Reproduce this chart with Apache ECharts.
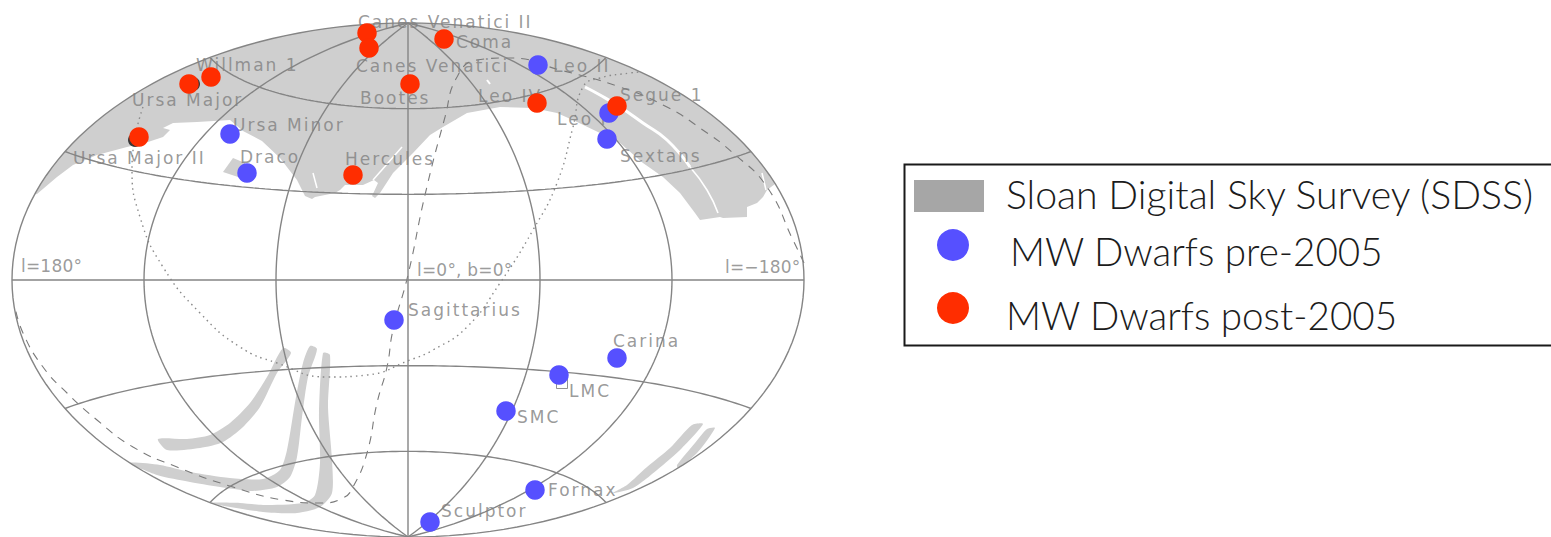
<!doctype html>
<html lang="en">
  <head>
    <meta charset="UTF-8" />
    <title>Milky Way dwarfs on the sky</title>
    <script src="https://cdn.jsdelivr.net/npm/echarts@6/dist/echarts.min.js"></script>
    <style>
      html, body { margin: 0; background: #fff; }
      #main { width: 1551px; height: 537px; }
      /* the sky labels are widely spaced in the original, svg text takes css for that */
      #main svg text { letter-spacing: 2px; }
      #main svg text[fill="#1c1c1c"] { letter-spacing: 0; }
      #main svg text[fill="#818181"] { letter-spacing: 0.2px; }
    </style>
  </head>
  <body>
    <div id="main"></div>
    <script>
      const preDwarfs = [
        [130, 215], [201, 167], [199, 141], [-178, 146], [-161, 107], [-14, -40],
        [209, -78], [151, -95], [98, -131], [127, -210], [22, -242]
      ];
      const postDwarfs = [
        [-41, 247], [-39, 232], [36, 241], [2, 196], [-197, 203], [-219, 196],
        [-269, 143], [129, 177], [209, 174], [-55, 105]
      ];
      // black plot symbols that peek out from under the red dots
      const hiddenDots = [[-215, 196], [-273, 140]];
      const lmcBox = [[154, -103]];

      const labelNames = [
        "Canes Venatici II", "Coma", "Willman 1", "Canes Venatici", "Leo II", "Ursa Major",
        "Bootes", "Leo IV", "Segue 1", "Leo I", "Ursa Minor", "Ursa Major II", "Draco",
        "Hercules", "Sextans", "Sagittarius", "Carina",
        "LMC", "SMC", "Fornax", "Sculptor"
      ];
      const labelSpots = [
        [-50, 258], [48, 238], [-212, 215], [-52, 214], [145, 214], [-276, 180],
        [-48, 182], [70, 184], [212, 185], [149, 161], [-175, 155], [-335, 122], [-168, 123],
        [-63, 121], [212, 124], [0, -30], [205, -61],
        [161, -111], [109, -137], [140, -210], [33, -231]
      ];
      const coordNames = ["l=180°", "l=0°, b=0°", "l=−180°"];
      const coordSpots = [[-387, 14], [9, 10], [317, 13]];

      // lower edge of the northern survey area, right to left
      const sdssNorthEdge = [
        [367, 96], [359, 90], [355, 83], [349, 77], [339, 73], [339, 63], [315, 62], [312, 63],
        [292, 60], [287, 67], [272, 87], [255, 103], [235, 117], [212, 137], [192, 147],
        [167, 159], [149, 167], [125, 172], [92, 173], [59, 167], [35, 153], [22, 145],
        [5, 127], [-15, 107], [-28, 87], [-33, 82], [-36, 84], [-30, 97], [-34, 100],
        [-45, 95], [-63, 95], [-68, 90], [-73, 87], [-93, 83], [-96, 81], [-103, 84],
        [-111, 100], [-128, 122], [-146, 139], [-165, 149], [-178, 160], [-211, 158],
        [-235, 157], [-245, 152], [-238, 150], [-245, 143], [-260, 138], [-281, 133],
        [-311, 125], [-335, 115], [-351, 103], [-371, 86]
      ];
      const sdssArcFrom = 19.5;
      const sdssArcTo = 158.1;
      const sdssDraco = [[-185, 108], [-175, 122], [-163, 117], [-158, 100], [-170, 103]];
      const sdssStripeA = [
        [-125, -68], [-117, -73], [-131, -93], [-148, -127], [-165, -147], [-185, -162],
        [-208, -168], [-241, -170], [-250, -159], [-221, -159], [-198, -155], [-178, -143],
        [-158, -123], [-141, -97]
      ];
      const sdssStripeB = [
        [-98, -66], [-91, -69], [-100, -97], [-106, -137], [-111, -177], [-118, -197],
        [-131, -207], [-155, -211], [-181, -208], [-218, -202], [-251, -195], [-278, -183],
        [-248, -185], [-218, -192], [-178, -198], [-145, -199], [-128, -190], [-121, -170],
        [-112, -117], [-105, -83]
      ];
      const sdssStripeC = [
        [-85, -73], [-78, -75], [-80, -127], [-76, -180], [-76, -213], [-88, -227],
        [-111, -233], [-145, -232], [-198, -223], [-168, -223], [-145, -225], [-105, -223],
        [-93, -215], [-88, -183], [-89, -133]
      ];
      const sdssStripeD = [
        [295, -144], [284, -145], [262, -168], [239, -187], [219, -205], [205, -213],
        [225, -208], [249, -190], [274, -168]
      ];
      const sdssStripeE = [
        [307, -148], [299, -149], [287, -163], [269, -185], [270, -188], [289, -173]
      ];

      // white gaps inside the survey area
      const gapLongUpper = [[177, 193], [192, 185], [212, 173], [235, 157], [259, 140], [282, 113]];
      const gapLongLower = [[282, 113], [299, 90], [310, 67]];
      const gapHercules = [[-6, 133], [-35, 100]];
      const gapMiddle = [[-95, 107], [-91, 92]];
      const gapEdge = [[354, 107], [358, 90]];
      const gapSpot = [[79, 200], [82, 196]];

      const dashedCurve = [
        [396, 17], [385, 40], [359, 93], [325, 127], [292, 152], [259, 173], [212, 193],
        [152, 210], [102, 222], [69, 220], [49, 203], [37, 163], [17, 85], [0, 5], [-15, -50],
        [-21, -87], [-31, -123], [-41, -173], [-55, -207], [-65, -218], [-88, -223],
        [-125, -220], [-175, -207], [-231, -187], [-275, -167], [-311, -140], [-341, -113],
        [-365, -87], [-385, -53], [-393, -27]
      ];
      const dottedCurve = [
        [-265, 173], [-276, 113], [-268, 63], [-245, 13], [-208, -33], [-168, -67], [-131, -83],
        [-81, -97], [-41, -95], [2, -80], [25, -70], [59, -47], [92, -3], [125, 50], [149, 97],
        [165, 153], [175, 193], [192, 202], [222, 207], [232, 208]
      ];

      const meridians = [-180, -120, -60, 0, 60, 120, 180];
      const parallels = [-60, -30, 0, 30, 60];
      const mapRx = 396;
      const mapRy = 257;

      const legendNames = ["Sloan Digital Sky Survey (SDSS)", "MW Dwarfs pre-2005", "MW Dwarfs post-2005"];

      const gray = "#cfcfcf";
      const blue = "#5650ff";
      const red = "#ff2d00";
      const ink = "#858585";

      // Aitoff projection, only used for the graticule and the map outline
      function aitoff(l, b) {
        const lr = (l * Math.PI) / 180;
        const br = (b * Math.PI) / 180;
        const a = Math.acos(Math.cos(br) * Math.cos(lr / 2));
        const s = a < 1e-6 ? 1 : Math.sin(a) / a;
        return [
          ((2 * Math.cos(br) * Math.sin(lr / 2)) / s / Math.PI) * mapRx,
          (Math.sin(br) / s / (Math.PI / 2)) * mapRy
        ];
      }

      function gridLine(points) {
        return {
          type: "line", data: points, showSymbol: false, silent: true, z: 3, clip: false,
          lineStyle: { color: ink, width: 1.4 }
        };
      }

      const graticule = [];
      meridians.forEach(function (l) {
        const pts = [];
        for (let b = -90; b <= 90; b += 2) pts.push(aitoff(l, b));
        graticule.push(gridLine(pts));
      });
      parallels.forEach(function (b) {
        const pts = [];
        for (let l = -180; l <= 180; l += 3) pts.push(aitoff(l, b));
        graticule.push(gridLine(pts));
      });

      // the northern area closes along the map outline
      const sdssNorth = sdssNorthEdge.slice();
      for (let t = sdssArcFrom; t <= sdssArcTo; t += 2) {
        const r = (t * Math.PI) / 180;
        sdssNorth.push([-Math.cos(r) * mapRx, Math.sin(r) * mapRy]);
      }
      const sdssAreas = [sdssNorth, sdssDraco, sdssStripeA, sdssStripeB, sdssStripeC, sdssStripeD, sdssStripeE];

      function gapLine(points, width) {
        return {
          type: "line", data: points, showSymbol: false, silent: true, z: 2, smooth: true,
          lineStyle: { color: "#fff", width: width }
        };
      }

      function textSeries(names, spots, color) {
        return {
          type: "scatter", symbolSize: 0, z: 5, silent: true, clip: false,
          data: names.map(function (name, i) {
            return { name: name, value: spots[i] };
          }),
          label: {
            show: true, position: "right", distance: 0, formatter: "{b}",
            fontFamily: "DejaVu Sans", fontSize: 17, color: color
          }
        };
      }

      function legendText(name, x, y, sx) {
        return {
          type: "text", x: x, y: y, scaleX: sx,
          style: {
            text: name, fill: "#1c1c1c", font: "300 38.6px Lato",
            textVerticalAlign: "middle"
          }
        };
      }

      const myChart = echarts.init(document.getElementById("main"), null, { renderer: "svg" });

      myChart.setOption({
        animation: false,
        grid: { left: 12, top: 23, width: 792, height: 514 },
        xAxis: { type: "value", min: -mapRx, max: mapRx, show: false },
        yAxis: { type: "value", min: -mapRy, max: mapRy, show: false },
        series: [
          {
            name: legendNames[0],
            type: "custom",
            z: 1,
            silent: true,
            clip: false,
            data: sdssAreas.map(function (a, i) { return [i]; }),
            renderItem: function (params, api) {
              return {
                type: "polygon",
                shape: {
                  points: sdssAreas[params.dataIndex].map(function (p) { return api.coord(p); }),
                  smooth: params.dataIndex < 2 ? 0 : 0.25
                },
                style: { fill: gray }
              };
            }
          },
          gapLine(gapLongUpper, 3),
          gapLine(gapLongLower, 1.6),
          gapLine(gapHercules, 1.5),
          gapLine(gapMiddle, 1.5),
          gapLine(gapEdge, 1.5),
          gapLine(gapSpot, 2),
          {
            type: "line", data: dashedCurve, smooth: true, showSymbol: false, silent: true, z: 3, clip: false,
            lineStyle: { color: "#7a7a7a", width: 1.1, type: [8, 7] }
          },
          {
            type: "line", data: dottedCurve, smooth: true, showSymbol: false, silent: true, z: 3, clip: false,
            lineStyle: { color: "#8a8a8a", width: 1.4, type: [1.5, 4] }
          },
          ...graticule,
          {
            type: "scatter", data: lmcBox, symbol: "rect", symbolSize: 11, z: 4, silent: true,
            itemStyle: { color: "none", borderColor: "#777", borderWidth: 1 }
          },
          textSeries(labelNames, labelSpots, "#808080"),
          textSeries(coordNames, coordSpots, "#818181"),
          {
            type: "scatter", data: hiddenDots, symbolSize: 14, z: 6, silent: true,
            itemStyle: { color: "#111" }
          },
          {
            name: legendNames[1], type: "scatter", data: preDwarfs, symbolSize: 19.5, z: 7, silent: true, clip: false,
            itemStyle: { color: blue, opacity: 1 }
          },
          {
            name: legendNames[2], type: "scatter", data: postDwarfs, symbolSize: 19.5, z: 8, silent: true, clip: false,
            itemStyle: { color: red, opacity: 1 }
          }
        ],
        graphic: [
          {
            type: "rect", shape: { x: 904.5, y: 164.5, width: 660, height: 181 },
            style: { fill: "#fff", stroke: "#1a1a1a", lineWidth: 2 }
          },
          { type: "rect", shape: { x: 914, y: 180, width: 70, height: 32 }, style: { fill: "#a6a6a6" } },
          { type: "circle", shape: { cx: 953, cy: 245, r: 16 }, style: { fill: blue } },
          { type: "circle", shape: { cx: 953, cy: 308, r: 16 }, style: { fill: red } },
          legendText(legendNames[0], 1006, 194, 1.017),
          legendText(legendNames[1], 1010, 251, 1),
          legendText(legendNames[2], 1006, 315, 1)
        ]
      });
    </script>
  </body>
</html>
